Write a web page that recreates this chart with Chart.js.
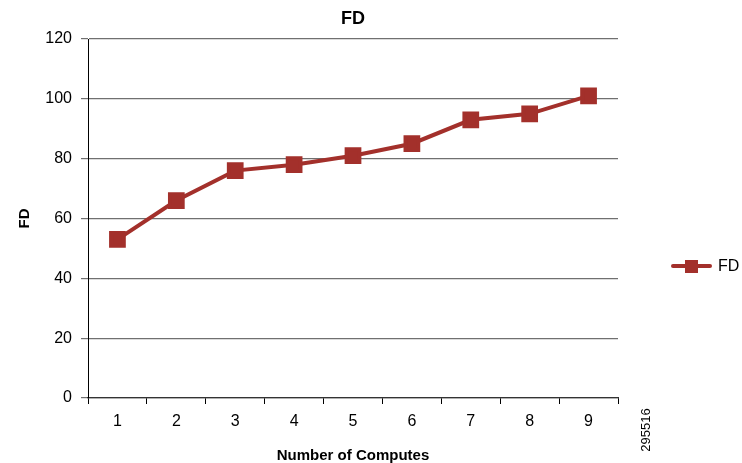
<!DOCTYPE html>
<html><head><meta charset="utf-8">
<script src="https://cdn.jsdelivr.net/npm/chart.js@4/dist/chart.umd.min.js"></script>
<style>html,body{margin:0;padding:0;background:#fff}#wrap{width:742px;height:463px}</style>
</head><body><div id="wrap"><canvas id="c"></canvas></div>
<script>
const categories = ['1','2','3','4','5','6','7','8','9'];
const fdValues = [53, 66, 76, 78, 81, 85, 93, 95, 101];
const seriesName = 'FD';
const chartTitle = 'FD';
const xTitle = 'Number of Computes';
const yTitle = 'FD';
const figureId = '295516';
const FONT = '"Liberation Sans", Arial, sans-serif';
const RED = '#a3302b';

const extras = {
  id: 'extras',
  afterDraw(chart) {
    const ctx = chart.ctx;
    const a = chart.chartArea;
    ctx.save();
    // title centered over plot area
    ctx.fillStyle = '#000'; ctx.font = 'bold 18px ' + FONT; ctx.textAlign = 'center'; ctx.textBaseline = 'middle';
    ctx.fillText(chartTitle, (a.left + a.right) / 2, 19);
    // legend
    const ds = chart.data.datasets[0];
    ctx.strokeStyle = ds.borderColor; ctx.lineWidth = 4; ctx.lineCap = 'round';
    ctx.beginPath(); ctx.moveTo(673, 266); ctx.lineTo(710, 266); ctx.stroke();
    ctx.fillStyle = ds.pointBackgroundColor;
    ctx.fillRect(685, 260, 13, 13);
    ctx.fillStyle = '#000'; ctx.font = '16px ' + FONT; ctx.textBaseline = 'middle'; ctx.textAlign = 'left';
    ctx.fillText(ds.label, 718, 267);
    // figure id
    ctx.translate(646, 430); ctx.rotate(-Math.PI/2);
    ctx.font = '13px ' + FONT; ctx.textAlign = 'center';
    ctx.fillText(figureId, 0, 0);
    ctx.restore();
  }
};

new Chart(document.getElementById('c'), {
  type: 'line',
  data: { labels: categories, datasets: [{
    label: seriesName, data: fdValues, borderColor: RED, backgroundColor: RED,
    pointBackgroundColor: RED, pointBorderColor: RED, borderWidth: 4,
    pointStyle: 'rect', pointRadius: 9, pointHoverRadius: 9, tension: 0
  }]},
  options: {
    responsive: true, maintainAspectRatio: false, animation: false,
    layout: { padding: { left: 0, right: 124, top: 39, bottom: 0 } },
    plugins: {
      legend: { display: false }, tooltip: { enabled: false }, title: { display: false }
    },
    scales: {
      x: {
        offset: true,
        afterFit(s) { s.height = 65; },
        grid: { offset: true, drawOnChartArea: false, drawTicks: true, tickLength: 6, color: '#000' },
        border: { color: '#333', width: 1.2 },
        ticks: { color: '#000', font: { family: FONT, size: 16 }, padding: 8 },
        title: { display: true, text: xTitle, color: '#000', font: { family: FONT, size: 15, weight: 'bold' }, padding: { top: 0, bottom: -2 } }
      },
      y: {
        min: 0, max: 120,
        afterFit(s) { s.width = 88; },
        grid: { color: '#707070', lineWidth: 1.2, drawTicks: true, tickLength: 7 },
        border: { color: '#000', width: 1 },
        ticks: { stepSize: 20, color: '#000', font: { family: FONT, size: 16 }, padding: 9 },
        title: { display: true, text: yTitle, color: '#000', font: { family: FONT, size: 15, weight: 'bold' }, padding: { top: 16, bottom: 0 } }
      }
    }
  },
  plugins: [extras]
});
</script></body></html>
